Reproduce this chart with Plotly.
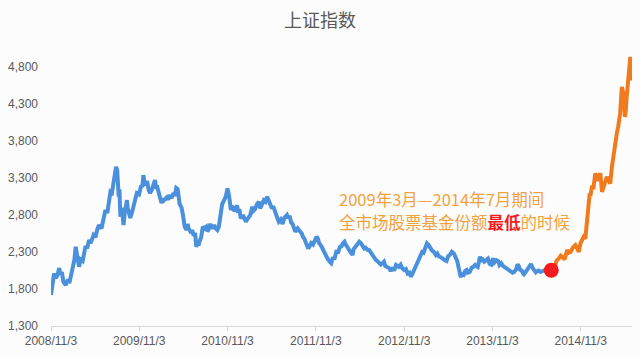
import plotly.graph_objects as go

title_text = "上证指数"

blue_dates = [
"2008-11-03","2008-11-10","2008-11-16","2008-11-23","2008-11-30","2008-12-07","2008-12-12","2008-12-18","2008-12-24",
"2009-01-03","2009-01-12","2009-01-18","2009-01-24","2009-02-01","2009-02-08","2009-02-13","2009-02-19","2009-02-27",
"2009-03-06","2009-03-14","2009-03-26","2009-04-02","2009-04-09","2009-04-16","2009-04-28","2009-05-06","2009-05-13",
"2009-05-20","2009-05-31","2009-06-08","2009-06-16","2009-06-24","2009-07-01","2009-07-07","2009-07-13","2009-07-19",
"2009-07-25","2009-07-30","2009-08-04","2009-08-10","2009-08-13","2009-08-17","2009-08-23","2009-08-30","2009-09-03",
"2009-09-06","2009-09-13","2009-09-16","2009-09-20","2009-09-27","2009-10-05","2009-10-12","2009-10-18","2009-10-24",
"2009-11-02","2009-11-11","2009-11-16","2009-11-20","2009-11-27","2009-12-05","2009-12-12","2009-12-18","2009-12-26",
"2010-01-02","2010-01-07","2010-01-12","2010-01-15","2010-01-23","2010-02-03","2010-02-08","2010-02-13","2010-02-25",
"2010-03-03","2010-03-09","2010-03-17","2010-03-25","2010-03-30","2010-04-05","2010-04-11","2010-04-19","2010-04-27",
"2010-05-03","2010-05-10","2010-05-18","2010-05-22","2010-05-26","2010-06-01","2010-06-06","2010-06-10","2010-06-16",
"2010-06-22","2010-06-27","2010-07-02","2010-07-06","2010-07-10","2010-07-17","2010-07-24","2010-07-31","2010-08-07",
"2010-08-12","2010-08-16","2010-08-24","2010-09-01","2010-09-09","2010-09-15","2010-09-22","2010-09-28","2010-10-04",
"2010-10-12","2010-10-20","2010-10-27","2010-11-03","2010-11-10","2010-11-17","2010-11-22","2010-11-26","2010-12-02",
"2010-12-07","2010-12-13","2010-12-17","2010-12-22","2010-12-28","2011-01-06","2011-01-11","2011-01-18","2011-01-27",
"2011-02-05","2011-02-14","2011-02-19","2011-02-25","2011-03-05","2011-03-13","2011-03-18","2011-03-25","2011-04-02",
"2011-04-09","2011-04-16","2011-04-22","2011-04-27","2011-05-06","2011-05-11","2011-05-17","2011-05-25","2011-06-03",
"2011-06-11","2011-06-19","2011-06-26","2011-07-07","2011-07-12","2011-07-18","2011-07-24","2011-07-30","2011-08-05",
"2011-08-10","2011-08-20","2011-08-28","2011-09-06","2011-09-12","2011-09-17","2011-09-24","2011-10-03","2011-10-09",
"2011-10-15","2011-10-23","2011-10-30","2011-11-06","2011-11-12","2011-11-17","2011-11-26","2011-12-03","2011-12-09",
"2011-12-15","2011-12-22","2011-12-31","2012-01-06","2012-01-13","2012-01-19","2012-01-27","2012-02-04","2012-02-11",
"2012-02-18","2012-02-24","2012-03-01","2012-03-06","2012-03-10","2012-03-18","2012-03-28","2012-04-03","2012-04-08",
"2012-04-16","2012-04-24","2012-05-01","2012-05-08","2012-05-15","2012-05-21","2012-05-27","2012-06-04","2012-06-11",
"2012-06-18","2012-06-25","2012-07-01","2012-07-07","2012-07-14","2012-07-22","2012-07-29","2012-08-05","2012-08-11",
"2012-08-17","2012-08-25","2012-09-03","2012-09-08","2012-09-15","2012-09-22","2012-09-30","2012-10-11","2012-10-19",
"2012-10-26","2012-11-03","2012-11-10","2012-11-17","2012-11-24","2012-12-01","2012-12-06","2012-12-12","2012-12-20",
"2012-12-27","2013-01-04","2013-01-10","2013-01-16","2013-01-22","2013-01-28","2013-02-05","2013-02-11","2013-02-18",
"2013-02-26","2013-03-05","2013-03-14","2013-03-20","2013-03-27","2013-04-03","2013-04-08","2013-04-14","2013-04-20",
"2013-04-27","2013-05-03","2013-05-10","2013-05-19","2013-05-27","2013-06-04","2013-06-10","2013-06-15","2013-06-19",
"2013-06-22","2013-06-25","2013-06-29","2013-07-07","2013-07-12","2013-07-19","2013-07-24","2013-08-01","2013-08-09",
"2013-08-16","2013-08-23","2013-09-03","2013-09-08","2013-09-12","2013-09-18","2013-09-23","2013-09-30","2013-10-09",
"2013-10-15","2013-10-22","2013-10-29","2013-11-05","2013-11-11","2013-11-19","2013-11-26","2013-12-02","2013-12-09",
"2013-12-17","2013-12-24","2013-12-30","2014-01-07","2014-01-13","2014-01-19","2014-01-25","2014-01-31","2014-02-08",
"2014-02-15","2014-02-20","2014-02-25","2014-03-04","2014-03-10","2014-03-13","2014-03-20","2014-03-26","2014-04-03",
"2014-04-11","2014-04-19","2014-04-25","2014-05-01","2014-05-07","2014-05-13","2014-05-20","2014-05-29","2014-06-07",
"2014-06-14","2014-06-20","2014-06-30",
]
blue_values = [
1719,1880,2012,1950,1990,2084,1990,2030,1900,
1854,1930,1880,1966,2050,2200,2372,2250,2102,
2200,2180,2380,2350,2462,2420,2530,2500,2600,
2665,2620,2750,2868,2830,2950,3115,3100,3250,
3300,3453,3400,3050,3150,2777,2900,2665,2800,
2850,3003,2900,2850,2760,2850,2950,3000,3097,
3080,3200,3180,3340,3200,3260,3140,3097,3150,
3220,3273,3160,3200,3100,2962,3020,3000,3040,
3010,3070,3030,3100,3060,3165,3150,2950,2900,
2800,2642,2600,2680,2620,2570,2557,2600,2520,
2560,2372,2420,2390,2440,2500,2642,2620,2642,
2580,2600,2680,2620,2665,2620,2597,2640,2800,
2950,3003,3050,3161,3050,2868,2920,2900,2850,
2890,2930,2830,2880,2755,2800,2760,2710,2760,
2800,2913,2860,2880,2950,2980,2890,2940,3000,
2980,3048,3000,2960,2890,2920,2850,2790,2710,
2740,2680,2760,2800,2760,2790,2700,2680,2630,
2575,2620,2590,2552,2500,2480,2420,2350,2380,
2420,2400,2460,2507,2480,2420,2380,2327,2300,
2230,2210,2169,2150,2230,2200,2304,2300,2370,
2380,2420,2440,2400,2380,2330,2282,2260,2340,
2370,2395,2440,2420,2380,2350,2360,2330,2327,
2290,2240,2230,2200,2180,2147,2130,2150,2170,
2110,2100,2080,2040,2090,2050,2125,2100,2130,
2080,2057,2070,2010,2020,1966,2000,2040,2120,
2170,2215,2260,2300,2290,2350,2418,2400,2350,
2320,2304,2260,2280,2240,2230,2215,2200,2190,
2180,2240,2260,2304,2280,2220,2180,2102,2050,
1966,1960,2000,1990,2040,2057,2020,2030,2090,
2100,2125,2100,2170,2237,2190,2200,2170,2192,
2210,2140,2130,2215,2160,2190,2180,2125,2150,
2110,2090,2080,2060,2050,2035,2020,2030,2060,
2133,2110,2060,2050,2010,2000,2030,2060,2080,
2137,2080,2050,2024,2040,2050,2030,2045,2050,
2065,2030,2048,
]

orange_dates = [
"2014-06-30","2014-07-08","2014-07-18","2014-07-25","2014-08-05","2014-08-12","2014-08-20","2014-08-28","2014-09-08",
"2014-09-15","2014-09-22","2014-10-01","2014-10-12","2014-10-20","2014-10-26","2014-11-02","2014-11-09","2014-11-15",
"2014-11-22","2014-11-29","2014-12-05","2014-12-10","2014-12-13","2014-12-20","2014-12-25","2015-01-02","2015-01-08",
"2015-01-14","2015-01-23","2015-01-30","2015-02-04","2015-02-08","2015-02-19","2015-02-27","2015-03-05","2015-03-12",
"2015-03-18","2015-03-25","2015-04-01","2015-04-07","2015-04-15","2015-04-22","2015-04-28","2015-05-05","2015-05-08",
"2015-05-12","2015-05-19","2015-05-22","2015-05-27","2015-05-29",
]
orange_values = [
2048,2060,2060,2180,2215,2250,2230,2200,2327,
2290,2300,2360,2395,2340,2304,2420,2460,2507,
2480,2777,2940,3093,3060,3200,3150,3363,3330,
3260,3367,3115,3160,3200,3318,3260,3228,3453,
3600,3813,3900,4000,4174,4534,4450,4128,4200,
4399,4624,4800,4939,4620,
]

dot_date = ["2014-07-04"]
dot_value = [2053]

x_tick_dates = ["2008-11-03","2009-11-03","2010-11-03","2011-11-03","2012-11-03","2013-11-03","2014-11-03"]
x_tick_labels = ["2008/11/3","2009/11/3","2010/11/3","2011/11/3","2012/11/3","2013/11/3","2014/11/3"]
y_tick_values = [1300,1800,2300,2800,3300,3800,4300,4800]
y_tick_labels = ["1,300","1,800","2,300","2,800","3,300","3,800","4,300","4,800"]

note_line1 = "2009年3月—2014年7月期间"
note_line2_a = "全市场股票基金份额"
note_line2_b = "最低"
note_line2_c = "的时候"

BLUE = "#4A90DC"
ORANGE = "#F07B1E"
RED = "#F21C1C"
NOTE = "#F2A23C"
GRAY = "#595959"

fig = go.Figure()
fig.add_trace(go.Scatter(x=blue_dates, y=blue_values, mode="lines",
                         line=dict(color=BLUE, width=4), hoverinfo="skip"))
fig.add_trace(go.Scatter(x=orange_dates, y=orange_values, mode="lines",
                         line=dict(color=ORANGE, width=4), hoverinfo="skip"))
fig.add_trace(go.Scatter(x=dot_date, y=dot_value, mode="markers",
                         marker=dict(color=RED, size=15, line=dict(width=0)), hoverinfo="skip"))

note_font = dict(family="Noto Sans CJK SC", size=16.5, color=NOTE)
fig.add_annotation(
    xref="paper", yref="paper", x=0.4915, y=(326 - 199) / 281, xanchor="left", yanchor="middle",
    align="left", showarrow=False, text=note_line1, font=note_font,
)
fig.add_annotation(
    xref="paper", yref="paper", x=0.4915, y=(326 - 221.5) / 281, xanchor="left", yanchor="middle",
    align="left", showarrow=False,
    text=(note_line2_a + "<span style='color:" + RED + "'><b>" + note_line2_b + "</b></span>" + note_line2_c),
    font=note_font,
)

fig.update_layout(
    width=640, height=356,
    margin=dict(l=45, r=8, t=45, b=30),
    paper_bgcolor="#FCFCFD", plot_bgcolor="#FCFCFD",
    showlegend=False, hovermode=False,
    title=dict(text=title_text, x=0.5, xanchor="center", y=1 - 21/356, yanchor="middle",
               font=dict(family="Noto Sans CJK SC", size=18, color=GRAY)),
    xaxis=dict(type="date", range=["2008-11-03", "2015-06-03"],
               tickmode="array", tickvals=x_tick_dates, ticktext=x_tick_labels,
               showgrid=False, zeroline=False, showline=True, linecolor="#D9D9D9", linewidth=1,
               ticks="outside", ticklen=4, tickcolor="#D9D9D9",
               tickfont=dict(family="Liberation Sans", size=12, color=GRAY)),
    yaxis=dict(range=[1300, 5100], tickmode="array", tickvals=y_tick_values, ticktext=y_tick_labels,
               showgrid=False, zeroline=False, showline=False, ticks="",
               ticklabelstandoff=12,
               tickfont=dict(family="Liberation Sans", size=12, color=GRAY)),
)

fig.write_html("out.html")
